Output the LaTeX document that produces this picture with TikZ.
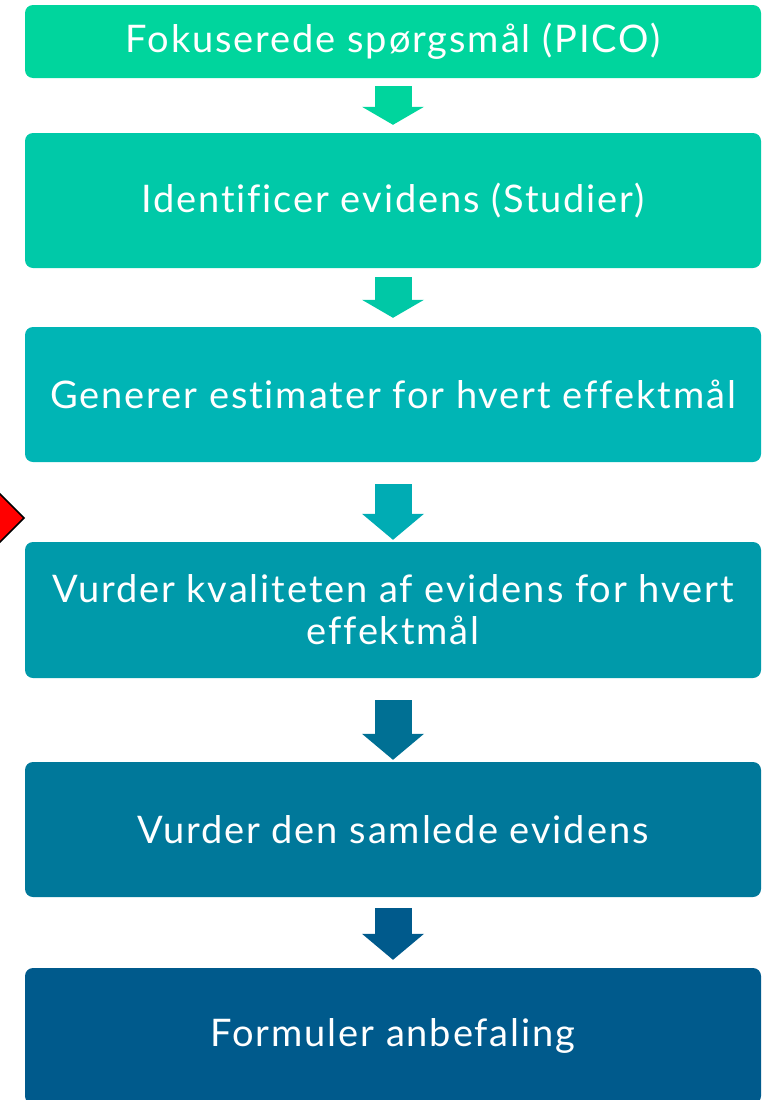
\documentclass[tikz,border=0pt]{standalone}
\usepackage{fontspec}
\setmainfont[Ligatures=NoCommon,LetterSpace=5]{Lato}
\usetikzlibrary{arrows.meta}

\definecolor{stepA}{RGB}{0,213,157}
\definecolor{stepB}{RGB}{0,201,168}
\definecolor{stepC}{RGB}{0,181,181}
\definecolor{stepD}{RGB}{0,154,170}
\definecolor{stepE}{RGB}{0,120,154}
\definecolor{stepF}{RGB}{0,90,140}
\definecolor{arrowB}{RGB}{0,200,166}
\definecolor{arrowC}{RGB}{0,172,180}
\definecolor{arrowD}{RGB}{0,112,148}

\begin{document}
\begin{tikzpicture}[x=1pt,y=-1pt,
  stepbox/.style={rectangle, rounded corners=8pt, minimum width=736pt, inner sep=0pt,
    text=white, align=center, font=\fontsize{38}{42}\selectfont},
  blockarrow/.style={line width=37pt, -{Triangle[length=#1,width=62pt,line width=0pt]}},
  blockarrow/.default=18pt]
\useasboundingbox (0,0) rectangle (774,1100);

%Shape: Diamond (red marker at left edge)
\draw [fill=red, line width=1.5pt] (24,518) -- (-6,488) -- (-36,518) -- (-6,548) -- cycle;

% Step boxes
\node [stepbox, fill=stepA, minimum height=73pt] (pico) at (393,41.5) {Fokuserede spørgsmål (PICO)};
\node [stepbox, fill=stepB, minimum height=135pt] (studier) at (393,200.5) {Identificer evidens (Studier)};
\node [stepbox, fill=stepC, minimum height=135pt] (estimat) at (393,394.5) {Generer estimater for hvert effektmål};
\node [stepbox, fill=stepD, minimum height=136pt] (kvalitet) at (393,610) {Vurder kvaliteten af evidens for hvert\\effektmål};
\node [stepbox, fill=stepE, minimum height=135pt] (samlet) at (393,829.5) {Vurder den samlede evidens};
\node [stepbox, fill=stepF, minimum height=136pt] (anbefal) at (393,1036) {Formuler anbefaling};

% Arrows between steps
\draw [blockarrow, stepA, shorten <=8pt, shorten >=8pt] (pico) -- (studier);
\draw [blockarrow, arrowB, shorten <=9pt, shorten >=9pt] (studier) -- (estimat);
\draw [blockarrow=26pt, arrowC, shorten <=22pt, shorten >=2pt] (estimat) -- (kvalitet);
\draw [blockarrow=26pt, arrowD, shorten <=22pt, shorten >=2pt] (kvalitet) -- (samlet);
\draw [blockarrow=26pt, stepF, shorten <=11pt, shorten >=8pt] (samlet) -- (anbefal);

\end{tikzpicture}
\end{document}
